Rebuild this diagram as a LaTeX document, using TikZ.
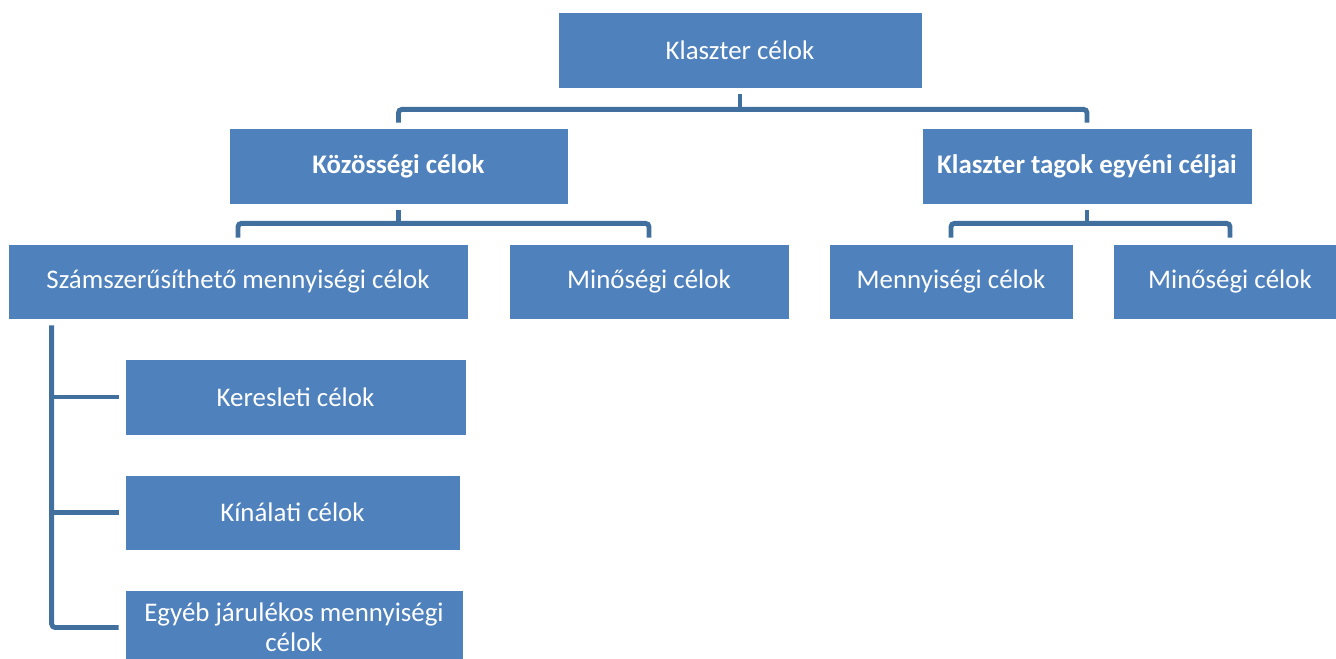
\documentclass[tikz,border=0pt]{standalone}
\usepackage{fontspec}
\setmainfont{Carlito}
\usetikzlibrary{calc}
\definecolor{boxblau}{HTML}{4F81BD}
\definecolor{linienblau}{HTML}{41709F}
\tikzset{
    kasten/.style={fill=boxblau, draw=white, line width=0.4pt, text=white,
        font=\fontsize{15.3}{17}\selectfont, align=center, inner sep=0pt,
        minimum height=1.5cm},
    linie/.style={draw=linienblau, line width=2.8pt, rounded corners=2pt}
}
\begin{document}
\begin{tikzpicture}[x=0.02cm, y=-0.02cm]
    \useasboundingbox (0,0) rectangle (1336,659);
    
    % Kästen
    \node[kasten, minimum width=7.28cm, minimum height=1.52cm] (cel) at (740,50) {Klaszter célok};
    \node[kasten, minimum width=6.78cm, minimum height=1.52cm, font=\fontsize{15.3}{17}\selectfont\bfseries] (koz) at (398.5,166) {Közösségi célok};
    \node[kasten, minimum width=6.6cm, minimum height=1.52cm, font=\fontsize{15.3}{17}\selectfont\bfseries] (tag) at (1087,166) {Klaszter tagok egyéni céljai};
    \node[kasten, minimum width=9.2cm] (szam) at (238,281.5) {Számszerűsíthető mennyiségi célok};
    \node[kasten, minimum width=5.6cm] (min1) at (649,281.5) {Minőségi célok};
    \node[kasten, minimum width=4.88cm] (meny) at (951,281.5) {Mennyiségi célok};
    \node[kasten, minimum width=4.68cm] (min2) at (1230,281.5) {Minőségi célok};
    \node[kasten, minimum width=6.82cm, minimum height=1.52cm] (ker) at (295.5,397) {Keresleti célok};
    \node[kasten, minimum width=6.7cm] (kin) at (292.5,512.5) {Kínálati célok};
    \node[kasten, minimum width=6.76cm] (egy) at (294,627.5) {Egyéb járulékos mennyiségi\\célok};
    
    % Verbindungen
    \coordinate (b1) at ($(cel.south)+(0,-0.42cm)$);
    \draw[linie] ([yshift=-0.12cm]cel.south) -- (b1);
    \draw[linie] ([yshift=0.1cm]koz.north) |- (b1) -| ([yshift=0.1cm]tag.north);
    
    \coordinate (b2) at ($(koz.south)+(0,-0.38cm)$);
    \draw[linie] ([yshift=-0.12cm]koz.south) -- (b2);
    \draw[linie] ([yshift=0.12cm]szam.north) |- (b2) -| ([yshift=0.12cm]min1.north);
    
    \coordinate (b3) at ($(tag.south)+(0,-0.38cm)$);
    \draw[linie] ([yshift=-0.12cm]tag.south) -- (b3);
    \draw[linie] ([yshift=0.12cm]meny.north) |- (b3) -| ([yshift=0.12cm]min2.north);
    
    % Klammer links
    \coordinate (sp) at ([xshift=0.88cm, yshift=-0.12cm]szam.south west);
    \draw[linie] (sp) |- ([xshift=-0.12cm]egy.west);
    \foreach \k in {ker, kin}
        \draw[linie] (sp |- \k.west) -- ([xshift=-0.12cm]\k.west);
        
\end{tikzpicture}
\end{document}
